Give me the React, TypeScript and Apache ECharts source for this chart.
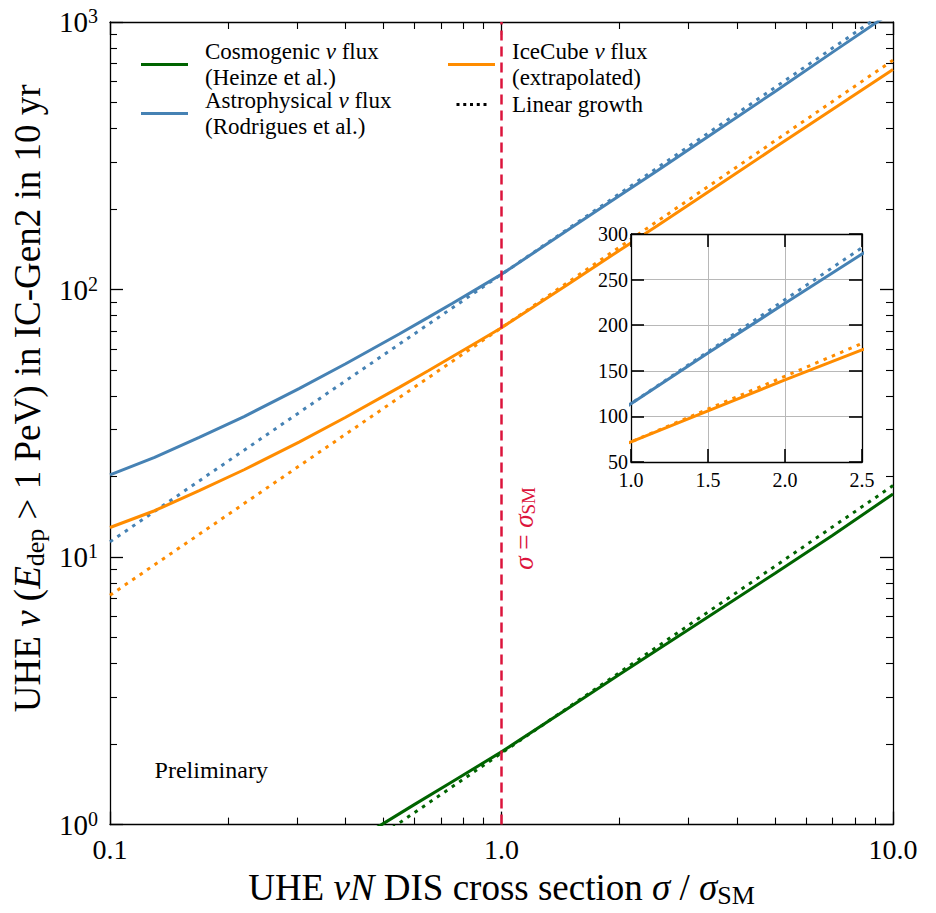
import React, { useEffect, useRef } from 'react';
import * as echarts from 'echarts';

// ---- data ----
const solidX = [0.1, 0.13, 0.169, 0.22, 0.304, 0.4, 0.548, 0.65, 0.75, 0.87, 1, 1.5, 2, 2.5, 3.5, 5, 7, 10];
const astroSolid = [20.3, 23.6, 28.0, 33.5, 42.6, 52.8, 68.2, 78.7, 88.9, 101, 114, 169.5, 224, 278, 387, 550, 770, 1097];
const iceSolid = [12.9, 14.9, 17.7, 21.2, 26.9, 33.3, 43.1, 49.7, 56.2, 63.8, 72, 106, 140, 173, 240, 340, 471, 665];
const cosmoX = [0.45, 0.494, 0.6, 0.75, 1, 1.5, 2, 3, 5, 7, 10];
const cosmoSolid = [0.92, 1.0, 1.19, 1.45, 1.87, 2.76, 3.64, 5.35, 8.7, 12.05, 17.2];
const linearX = [0.1, 10];
const astroLinear = [11.4, 1140];
const iceLinear = [7.2, 720];
const cosmoLinear = [0.185, 18.5];
const xMinorTicks = [0.2, 0.3, 0.4, 0.5, 0.6, 0.7, 0.8, 0.9, 2, 3, 4, 5, 6, 7, 8, 9];
const yMinorTicks = [2, 3, 4, 5, 6, 7, 8, 9, 20, 30, 40, 50, 60, 70, 80, 90, 200, 300, 400, 500, 600, 700, 800, 900];
const sigmaSM = 1.0;

const FONT = "'Liberation Serif', 'DejaVu Serif', serif";
const GREEN = '#006400';
const BLUE = '#4682b4';
const ORANGE = '#ff8c00';
const CRIMSON = '#dc143c';
const DOT: number[] = [3.5, 5.5];
const DOT_ICON = 'path://M0,0h4v4h-4zM9,0h4v4h-4zM18,0h4v4h-4zM27,0h4v4h-4zM36,0h4v4h-4z';

const zip = (xs: number[], ys: number[]) => xs.map((x, i) => [x, ys[i]]);

export default function App() {
  const ref = useRef<HTMLDivElement>(null);
  useEffect(() => {
    const chart = echarts.init(ref.current!, null, { renderer: 'svg' });
    const axisLineStyle = { color: '#000', width: 1.3 };
    const logX = (extra: any) => ({
      type: 'log', logBase: 10, gridIndex: 0, min: 0.1, max: 10,
      splitLine: { show: false }, axisLabel: { show: false },
      axisLine: { show: false, onZero: false, lineStyle: axisLineStyle },
      ...extra,
    });
    const logY = (extra: any) => ({
      type: 'log', logBase: 10, gridIndex: 0, min: 1, max: 1000,
      splitLine: { show: false }, axisLabel: { show: false },
      axisLine: { show: false, onZero: false, lineStyle: axisLineStyle },
      ...extra,
    });
    const majorTick = { show: true, inside: true, length: 13, lineStyle: axisLineStyle };
    const minorTick = (vals: number[]) => ({ show: true, inside: true, length: 7, customValues: vals, lineStyle: { color: '#000', width: 1.1 } });

    const titleRich = {
      t: { fontSize: 37, lineHeight: 42, fontFamily: FONT, color: '#000' },
      i: { fontSize: 37, lineHeight: 42, fontFamily: FONT, fontStyle: 'italic', color: '#000' },
      sub: { fontSize: 26, lineHeight: 24, verticalAlign: 'bottom', fontFamily: FONT, color: '#000' },
    };

    const insetTick = { show: true, inside: true, length: 13, lineStyle: { color: '#000', width: 1.6 } };
    const insetLine = { show: true, onZero: false, lineStyle: { color: '#000', width: 1.3 } };

    const legendRich = {
      t: { fontSize: 23, lineHeight: 26, fontFamily: FONT, color: '#000' },
      i: { fontSize: 23, lineHeight: 26, fontFamily: FONT, fontStyle: 'italic', color: '#000' },
      g: { width: 12 },
    };
    const legendText: Record<string, string> = {
      Cosmogenic: '{g|}{t|Cosmogenic }{i|ν}{t| flux}\n{g|}{t|(Heinze et al.)}',
      Astrophysical: '{g|}{t|Astrophysical }{i|ν}{t| flux}\n{g|}{t|(Rodrigues et al.)}',
      IceCube: '{g|}{t|IceCube }{i|ν}{t| flux}\n{g|}{t|(extrapolated)}',
      'Linear growth': '{g|}{t|Linear growth}',
    };

    const solid = (name: string, data: number[][], color: string, xi: number, yi: number, z: number) => ({
      name, type: 'line', xAxisIndex: xi, yAxisIndex: yi, data, symbol: 'none', showSymbol: false, z, clip: true,
      lineStyle: { color, width: 3 }, itemStyle: { color },
    });
    const dotted = (name: string, data: number[][], color: string, xi: number, yi: number, z: number) => ({
      name, type: 'line', xAxisIndex: xi, yAxisIndex: yi, data, symbol: 'none', showSymbol: false, z, clip: true,
      lineStyle: { color, width: 3, type: DOT }, itemStyle: { color },
    });

    const option: any = {
      animation: false,
      backgroundColor: '#fff',
      textStyle: { fontFamily: FONT },
      grid: [
        { left: 110, top: 22, right: 43, bottom: 83, show: false },
        { left: 631, top: 234, width: 231, height: 228, show: true, backgroundColor: '#fff', borderWidth: 0, z: 5 },
      ],
      legend: [
        {
          orient: 'vertical', left: 141, top: 40, padding: 0, itemGap: 0, itemWidth: 47, itemHeight: 3,
          selectedMode: false,
          data: [{ name: 'Cosmogenic', icon: 'rect' }, { name: 'Astrophysical', icon: 'rect' }],
          formatter: (n: string) => legendText[n], textStyle: { rich: legendRich },
        },
        {
          orient: 'vertical', left: 448, top: 40, padding: 0, itemGap: 4, itemWidth: 47, itemHeight: 3,
          selectedMode: false,
          data: [{ name: 'IceCube', icon: 'rect' }, { name: 'Linear growth', icon: DOT_ICON }],
          formatter: (n: string) => legendText[n], textStyle: { rich: legendRich },
        },
      ],
      xAxis: [
        logX({
          position: 'bottom',
          axisLine: { show: true, onZero: false, lineStyle: axisLineStyle },
          axisTick: majorTick,
          axisLabel: { show: true, fontSize: 28, color: '#000', margin: 11, fontFamily: FONT, formatter: (v: number) => v.toFixed(1) },
          name: '{t|UHE }{i|νN}{t| DIS cross section }{i|σ}{t| / }{i|σ}{sub|SM}',
          nameLocation: 'middle', nameGap: 40,
          nameTextStyle: { rich: titleRich },
        }),
        logX({ position: 'bottom', axisTick: minorTick(xMinorTicks) }),
        logX({ position: 'top', axisLine: { show: true, onZero: false, lineStyle: axisLineStyle }, axisTick: majorTick }),
        logX({ position: 'top', axisTick: minorTick(xMinorTicks) }),
        {
          type: 'value', gridIndex: 1, min: 1, max: 2.5, interval: 0.5, position: 'bottom', z: 6,
          axisLine: insetLine, axisTick: insetTick,
          axisLabel: { fontSize: 20, color: '#000', margin: 8, fontFamily: FONT, formatter: (v: number) => v.toFixed(1) },
          splitLine: { show: true, lineStyle: { color: '#b8b8b8', width: 1 } },
        },
        {
          type: 'value', gridIndex: 1, min: 1, max: 2.5, interval: 0.5, position: 'top', z: 6,
          axisLine: insetLine, axisTick: insetTick, axisLabel: { show: false }, splitLine: { show: false },
        },
      ],
      yAxis: [
        logY({
          position: 'left',
          axisLine: { show: true, onZero: false, lineStyle: axisLineStyle },
          axisTick: majorTick,
          axisLabel: {
            show: true, margin: 12, color: '#000',
            formatter: (v: number) => `{b|10}{s|${Math.round(Math.log10(v))}}`,
            rich: {
              b: { fontSize: 29, lineHeight: 32, fontFamily: FONT, color: '#000' },
              s: { fontSize: 20, lineHeight: 20, verticalAlign: 'top', fontFamily: FONT, color: '#000' },
            },
          },
          name: '{t|UHE }{i|ν}{t| (}{i|E}{sub|dep}{t| > 1 PeV) in IC-Gen2 in 10 yr}',
          nameLocation: 'middle', nameGap: 60, nameRotate: 90,
          nameTextStyle: { rich: titleRich, padding: [0, 0, 0, 50] },
        }),
        logY({ position: 'left', axisTick: minorTick(yMinorTicks) }),
        logY({ position: 'right', axisLine: { show: true, onZero: false, lineStyle: axisLineStyle }, axisTick: majorTick }),
        logY({ position: 'right', axisTick: minorTick(yMinorTicks) }),
        {
          type: 'value', gridIndex: 1, min: 50, max: 300, interval: 50, position: 'left', z: 6,
          axisLine: insetLine, axisTick: insetTick,
          axisLabel: { fontSize: 20, color: '#000', margin: 3, fontFamily: FONT },
          splitLine: { show: true, lineStyle: { color: '#b8b8b8', width: 1 } },
        },
        {
          type: 'value', gridIndex: 1, min: 50, max: 300, interval: 50, position: 'right', z: 6,
          axisLine: insetLine, axisTick: insetTick, axisLabel: { show: false }, splitLine: { show: false },
        },
      ],
      series: [
        solid('Cosmogenic', zip(cosmoX, cosmoSolid), GREEN, 0, 0, 2),
        dotted('Cosmogenic linear', zip(linearX, cosmoLinear), GREEN, 0, 0, 2),
        solid('Astrophysical', zip(solidX, astroSolid), BLUE, 0, 0, 2),
        dotted('Astrophysical linear', zip(linearX, astroLinear), BLUE, 0, 0, 2),
        solid('IceCube', zip(solidX, iceSolid), ORANGE, 0, 0, 2),
        dotted('IceCube linear', zip(linearX, iceLinear), ORANGE, 0, 0, 2),
        {
          name: 'Linear growth', type: 'line', xAxisIndex: 0, yAxisIndex: 0, data: [], symbol: 'none',
          lineStyle: { color: '#000', width: 3, type: DOT }, itemStyle: { color: '#000' },
        },
        {
          name: 'sigma line', type: 'line', xAxisIndex: 0, yAxisIndex: 0, data: [], symbol: 'none', z: 3,
          markLine: {
            silent: true, symbol: ['none', 'none'], label: { show: false },
            lineStyle: { color: CRIMSON, width: 2.5, type: [10, 6] },
            data: [{ xAxis: sigmaSM }],
          },
        },
        solid('Astrophysical inset', zip(solidX, astroSolid), BLUE, 4, 4, 10),
        dotted('Astrophysical linear inset', zip(linearX, astroLinear), BLUE, 4, 4, 10),
        solid('IceCube inset', zip(solidX, iceSolid), ORANGE, 4, 4, 10),
        dotted('IceCube linear inset', zip(linearX, iceLinear), ORANGE, 4, 4, 10),
      ],
    };
    chart.setOption(option);

    const p = chart.convertToPixel({ xAxisIndex: 0, yAxisIndex: 0 }, [sigmaSM, 12.8]) as number[];
    const q = chart.convertToPixel({ xAxisIndex: 0, yAxisIndex: 0 }, [0.13, 1.6]) as number[];
    chart.setOption({
      graphic: [
        {
          type: 'text', x: p[0] + 22, y: p[1], rotation: Math.PI / 2, z: 20,
          style: {
            text: '{i|σ}{t| = }{i|σ}{sub|SM}', align: 'center', verticalAlign: 'middle', fill: CRIMSON,
            rich: {
              t: { fontSize: 27, lineHeight: 28, fontFamily: FONT, color: CRIMSON },
              i: { fontSize: 27, lineHeight: 28, fontFamily: FONT, fontStyle: 'italic', color: CRIMSON },
              sub: { fontSize: 19, lineHeight: 16, verticalAlign: 'bottom', fontFamily: FONT, color: CRIMSON },
            },
          },
        },
        {
          type: 'text', x: q[0], y: q[1], z: 20,
          style: { text: 'Preliminary', fontSize: 24, fontFamily: FONT, fill: '#000', align: 'left', verticalAlign: 'middle' },
        },
      ],
    });
    return () => chart.dispose();
  }, []);
  return <div ref={ref} style={{ position: 'absolute', left: 0, top: 0, width: 936, height: 913, background: '#fff' }} />;
}
